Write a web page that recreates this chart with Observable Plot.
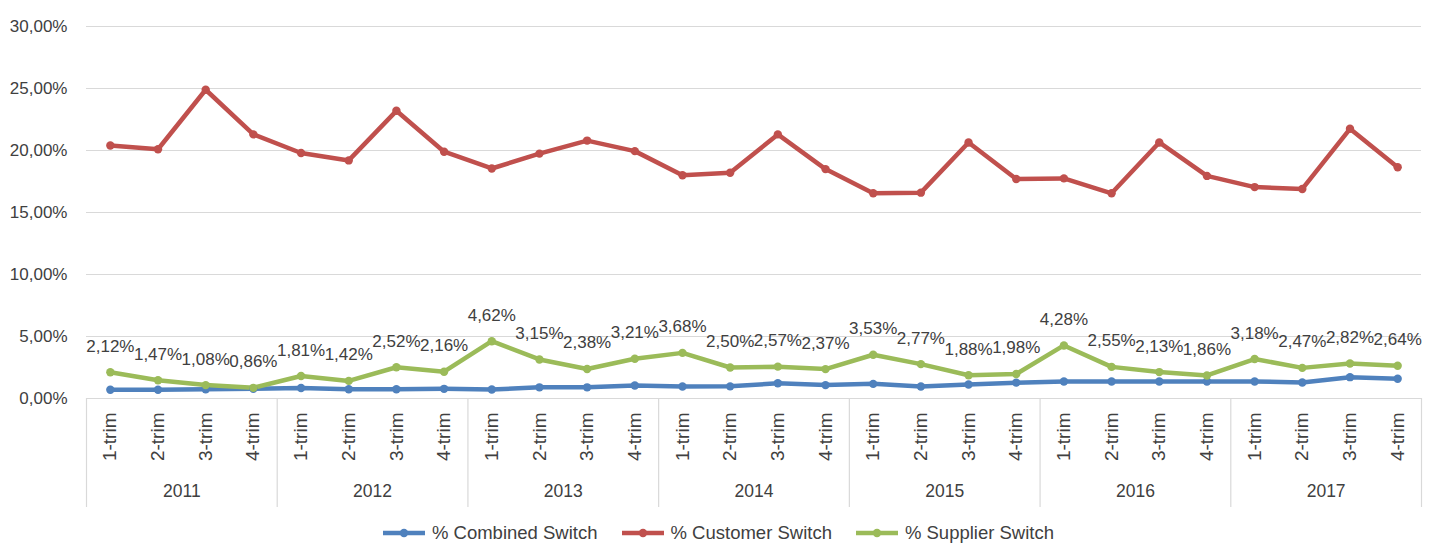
<!DOCTYPE html>
<html>
<head>
<meta charset="utf-8">
<script src="https://cdn.jsdelivr.net/npm/d3@7"></script>
<script src="https://cdn.jsdelivr.net/npm/@observablehq/plot@0.6"></script>
<style>
  html, body { margin: 0; padding: 0; background: #fff; }
  #chart { width: 1437px; }
  .legend { display: flex; justify-content: center; align-items: center; height: 20px; padding-top: 8px;
    font-family: "Liberation Sans", Arial, sans-serif; font-size: 18.5px; color: #404040; }
  .legend .item { display: flex; align-items: center; margin: 0 12px; }
  .legend svg { margin-right: 7px; }
</style>
</head>
<body>
<div id="chart"></div>
<script>
const years = [2011, 2012, 2013, 2014, 2015, 2016, 2017];
const quarterLabels = ["1-trim", "2-trim", "3-trim", "4-trim"];
const seriesNames = ["% Combined Switch", "% Customer Switch", "% Supplier Switch"];
const seriesColors = ["#4F81BD", "#C0504D", "#9BBB59"];
const yTicks = [0, 5, 10, 15, 20, 25, 30];

const combined = [0.70, 0.70, 0.75, 0.78, 0.85, 0.75, 0.75, 0.78,
                  0.73, 0.90, 0.90, 1.05, 0.97, 0.98, 1.23, 1.08,
                  1.18, 0.97, 1.13, 1.28, 1.37, 1.37, 1.37, 1.37,
                  1.37, 1.29, 1.72, 1.59];
const customer = [20.4, 20.1, 24.9, 21.3, 19.8, 19.2, 23.2, 19.9,
                  18.55, 19.75, 20.8, 19.95, 18.0, 18.2, 21.3, 18.5,
                  16.55, 16.6, 20.65, 17.7, 17.75, 16.55, 20.65, 17.95,
                  17.05, 16.9, 21.75, 18.65];
const supplier = [2.12, 1.47, 1.08, 0.86, 1.81, 1.42, 2.52, 2.16,
                  4.62, 3.15, 2.38, 3.21, 3.68, 2.50, 2.57, 2.37,
                  3.53, 2.77, 1.88, 1.98, 4.28, 2.55, 2.13, 1.86,
                  3.18, 2.47, 2.82, 2.64];

const FONT = '"Liberation Sans", Arial, sans-serif';
const pct = v => v.toFixed(2).replace(".", ",") + "%";

const seriesValues = [combined, customer, supplier];
const rows = [];
seriesValues.forEach((vals, s) => vals.forEach((v, i) => rows.push({series: seriesNames[s], i, v})));
const supplierRows = rows.filter(d => d.series === seriesNames[2]);

const idx = d3.range(years.length * 4);
const separators = years.map((y, k) => k * 4 - 0.5).concat([years.length * 4 - 0.5]);
const yearCenters = years.map((y, k) => k * 4 + 1.5);

const chart = Plot.plot({
  width: 1437,
  height: 515,
  marginLeft: 86,
  marginRight: 16,
  marginTop: 26,
  marginBottom: 117,
  style: {fontFamily: FONT, fontSize: "17px", color: "#404040", background: "#fff"},
  x: {domain: [-0.5, idx.length - 0.5], axis: null},
  y: {domain: [0, 30], axis: null},
  color: {domain: seriesNames, range: seriesColors},
  marks: [
    Plot.ruleY(yTicks, {stroke: "#d9d9d9", strokeWidth: 1.2}),
    Plot.axisY({ticks: yTicks, tickSize: 0, tickPadding: 19, tickFormat: pct, fontSize: 17, fill: "#404040", label: null}),
    Plot.axisX({ticks: separators, tickSize: 109, tickFormat: () => "", stroke: "#d9d9d9", strokeWidth: 1.2, label: null}),
    Plot.axisX({ticks: idx, tickSize: 0, tickPadding: 14, tickRotate: -90, fontSize: 19, fill: "#404040", label: null,
                tickFormat: i => quarterLabels[i % 4]}),
    Plot.axisX({ticks: yearCenters, tickSize: 0, tickPadding: 86, fontSize: 17.5, fill: "#404040", label: null,
                tickFormat: c => String(years[Math.round((c - 1.5) / 4)])}),
    Plot.line(rows, {x: "i", y: "v", z: "series", stroke: "series", strokeWidth: 4.5, curve: "linear"}),
    Plot.dot(rows, {x: "i", y: "v", fill: "series", r: 4.2, stroke: "none"}),
    Plot.text(supplierRows, {x: "i", y: "v", text: d => pct(d.v), dy: -26, fontSize: 17, fill: "#404040",
                             textAnchor: "middle", lineAnchor: "middle"})
  ]
});
document.getElementById("chart").appendChild(chart);

const legend = document.createElement("div");
legend.className = "legend";
seriesNames.forEach((name, s) => {
  const item = document.createElement("div");
  item.className = "item";
  item.innerHTML = `<svg width="42" height="12"><line x1="0" y1="6" x2="42" y2="6" stroke="${seriesColors[s]}" stroke-width="4.5"/><circle cx="21" cy="6" r="4.2" fill="${seriesColors[s]}"/></svg><span>${name}</span>`;
  legend.appendChild(item);
});
document.body.appendChild(legend);
</script>
</body>
</html>
